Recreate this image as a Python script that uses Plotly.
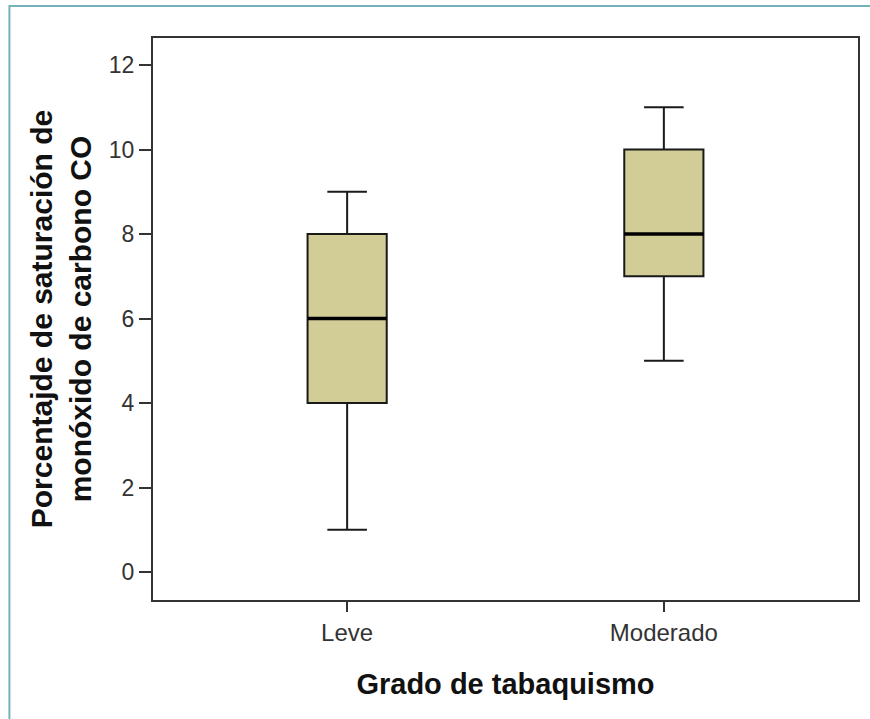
import plotly.graph_objects as go

# Five-number summaries per smoking grade
categories = ["Leve", "Moderado"]
lower_fence = [1, 5]
q1 = [4, 7]
median = [6, 8]
q3 = [8, 10]
upper_fence = [9, 11]

y_ticks = [0, 2, 4, 6, 8, 10, 12]

box_width = 0.25
positions = list(range(len(categories)))

fig = go.Figure()

for i, cat in enumerate(categories):
    fig.add_trace(go.Box(
        x=[positions[i]],
        q1=[q1[i]], median=[median[i]], q3=[q3[i]],
        lowerfence=[lower_fence[i]], upperfence=[upper_fence[i]],
        width=box_width,
        whiskerwidth=0.5,
        fillcolor="#d2cd97",
        line=dict(color="#1a1a1a", width=2),
        boxpoints=False,
        hoverinfo="skip",
        showlegend=False,
        name=cat,
    ))
    # heavier median bar on top of the box
    fig.add_trace(go.Scatter(
        x=[positions[i] - box_width / 2, positions[i] + box_width / 2],
        y=[median[i], median[i]],
        mode="lines",
        line=dict(color="#000000", width=3.5),
        hoverinfo="skip",
        showlegend=False,
    ))

axis_line = dict(showline=True, linecolor="#333333", linewidth=2, mirror=True,
                 ticks="outside", tickcolor="#333333", tickwidth=2,
                 showgrid=False, zeroline=False)

fig.update_layout(
    width=870, height=719,
    margin=dict(l=153, r=10, t=38, b=119),
    paper_bgcolor="white", plot_bgcolor="white",
    font=dict(family="Liberation Sans, Arial, sans-serif", color="#222222"),
    xaxis=dict(
        **axis_line,
        range=[-0.613, 1.613],
        tickvals=positions, ticktext=categories,
        ticklen=10,
        tickfont=dict(size=24, color="#333333"),
        title=dict(text="<b>Grado de tabaquismo</b>", font=dict(size=29, color="#111111"),
                   standoff=29),
    ),
    yaxis=dict(
        **axis_line,
        range=[-0.66, 12.64],
        tickvals=y_ticks,
        ticklen=12,
        tickfont=dict(size=23, color="#333333"),
        title=dict(text="<b>Porcentajde de saturación de<br>monóxido de carbono CO</b>",
                   font=dict(size=30, color="#111111"), standoff=8),
    ),
    shapes=[dict(
        type="rect", xref="paper", yref="paper",
        x0=(9 - 153) / 707, x1=1.05,
        y0=-0.3, y1=1 + (38 - 6) / 562,
        line=dict(color="#74b2ba", width=2),
        fillcolor="rgba(0,0,0,0)", layer="below",
    )],
)

fig.write_html("out.html")
